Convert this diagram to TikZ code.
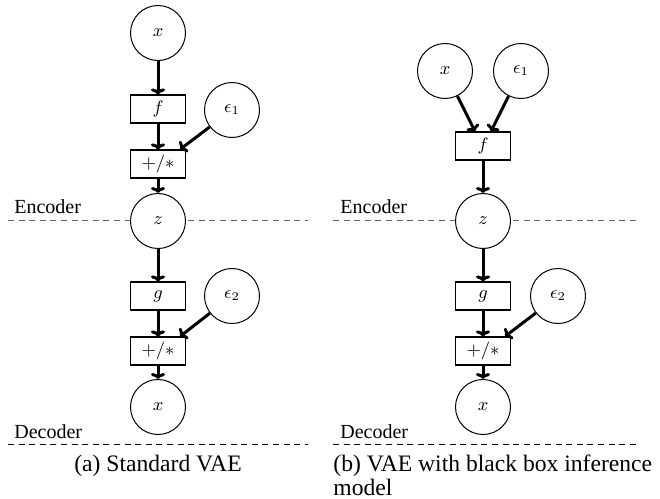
\documentclass[tikz,border=0pt]{standalone}
\usepackage{fontspec}
\setmainfont{Liberation Serif}
\usetikzlibrary{arrows.meta}
\tikzset{
  var/.style={circle, draw, line width=0.5pt, minimum size=27.5pt, inner sep=0pt, fill=white, font=\fontsize{9}{10}\selectfont},
  op/.style={rectangle, draw, line width=0.6pt, minimum width=27.5pt, minimum height=14pt, inner sep=0pt, fill=white, font=\fontsize{9}{10}\selectfont},
  arr/.style={-{To[length=3pt,width=7pt]}, line width=1.5pt},
  encline/.style={draw=black!60, dash pattern=on 3pt off 2.3pt, line width=0.5pt},
  decline/.style={draw=black, dash pattern=on 3pt off 2.3pt, line width=0.5pt},
  lbl/.style={font=\fontsize{10}{12}\selectfont, anchor=base west, inner sep=0pt},
  captext/.style={font=\fontsize{11.8}{14}\selectfont, inner sep=0pt}
}
\begin{document}
\begin{tikzpicture}[x=0.5pt,y=-0.5pt]
\useasboundingbox (0,0) rectangle (660,499);
% separator lines
\draw[encline] (8,220) -- (308,220);
\draw[decline] (8,444) -- (308,444);
\draw[encline] (333,220) -- (640,220);
\draw[decline] (333,444) -- (640,444);
\node[lbl] (enca) at (14,213) {Encoder};
\node[lbl] (deca) at (14,438) {Decoder};
\node[lbl] (encb) at (340,213) {Encoder};
\node[lbl] (decb) at (340,438) {Decoder};
% left panel
\node[var] (xa) at (158,33) {$x$};
\node[op] (fa) at (158,109) {$f$};
\node[var] (e1a) at (232,110) {$\epsilon_1$};
\node[op] (pma) at (158,164) {$+/*$};
\node[var] (za) at (158,221) {$z$};
\node[op] (ga) at (158,296) {$g$};
\node[var] (e2a) at (232,296) {$\epsilon_2$};
\node[op] (pm2a) at (158,351) {$+/*$};
\node[var] (xoa) at (158,407) {$x$};
\draw[arr] (xa) -- (fa);
\draw[arr] (fa) -- (pma);
\draw[arr] (e1a) -- ([xshift=-3pt]pma.north east);
\draw[arr] (pma) -- (za);
\draw[arr] (za) -- (ga);
\draw[arr] (ga) -- (pm2a);
\draw[arr] (e2a) -- ([xshift=-3pt]pm2a.north east);
\draw[arr] (pm2a) -- (xoa);
% right panel
\node[var] (xb) at (445,71) {$x$};
\node[var] (e1b) at (521,71) {$\epsilon_1$};
\node[op] (fb) at (483,146) {$f$};
\node[var] (zb) at (483,221) {$z$};
\node[op] (gb) at (483,296) {$g$};
\node[var] (e2b) at (558,296) {$\epsilon_2$};
\node[op] (pmb) at (483,351) {$+/*$};
\node[var] (xob) at (483,407) {$x$};
\draw[arr] (xb) -- ([xshift=-4pt]fb.north);
\draw[arr] (e1b) -- ([xshift=4pt]fb.north);
\draw[arr] (fb) -- (zb);
\draw[arr] (zb) -- (gb);
\draw[arr] (gb) -- (pmb);
\draw[arr] (e2b) -- ([xshift=-3pt]pmb.north east);
\draw[arr] (pmb) -- (xob);
% captions
\node[captext, anchor=base] (capa) at (158,471) {(a) Standard VAE};
\node[captext, anchor=base west] (capb) at (333,471) {(b) VAE with black box inference};
\node[captext, anchor=base west] (capb2) at (333,495) {model};
\end{tikzpicture}
\end{document}
